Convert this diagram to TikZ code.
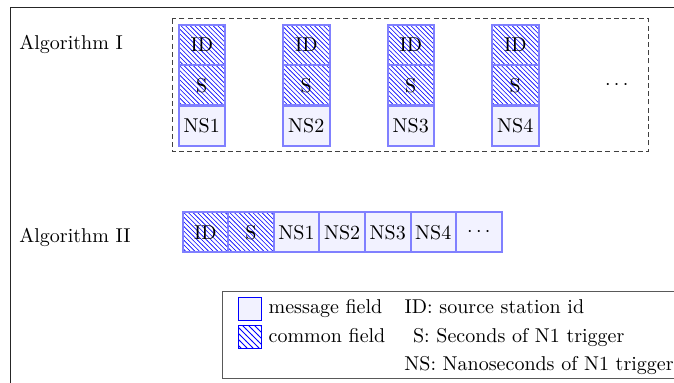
\documentclass[tikz,border=0pt]{standalone}
\usetikzlibrary{patterns}
\pgfdeclarepatternformonly{fine nw lines}{\pgfqpoint{-1pt}{-1pt}}{\pgfqpoint{3.3pt}{3.3pt}}{\pgfqpoint{2.3pt}{2.3pt}}{%
  \pgfsetlinewidth{0.3pt}%
  \pgfpathmoveto{\pgfqpoint{0pt}{2.3pt}}%
  \pgfpathlineto{\pgfqpoint{2.4pt}{-0.1pt}}%
  \pgfusepath{stroke}}
\begin{document}
\begin{tikzpicture}[x=0.5pt,y=-0.5pt,
  field/.style={draw=blue!50, line width=1pt, minimum width=23.2pt, minimum height=20pt, inner sep=0pt},
  msgfield/.style={field, fill=blue!5},
  comfield/.style={field, pattern=fine nw lines, pattern color=blue},
  rowfield/.style={minimum width=22.8pt},
  lbl/.style={anchor=base west, inner sep=0pt},
  frameline/.style={draw=black!85, line width=0.5pt},
  groupbox/.style={draw=black!75, line width=0.5pt, dash pattern=on 2.5pt off 1.6pt},
  legendbox/.style={draw=black!65, line width=0.5pt},
  legsquare/.style={draw=blue, line width=0.5pt, minimum size=11.5pt, inner sep=0pt}]
\clip (0,0) rectangle (674,383);
% outer frame (partly visible)
\coordinate (fbl) at (10.7,383);
\coordinate (ftl) at (10.7,8);
\coordinate (ftr) at (674,8);
\draw[frameline] (fbl) -- (ftl) -- (ftr);
% Algorithm I
\node[lbl] (alg1) at (19,50) {Algorithm I};
\draw[groupbox] (172.3,19) rectangle (648.3,151.7);
\foreach \i in {1,...,4}{
  \pgfmathsetmacro{\xx}{201.8+104.5*(\i-1)}
  \node[comfield] (idA\i) at (\xx,45) {ID};
  \node[comfield] (sA\i) at (\xx,85.3) {S};
  \node[msgfield] (nsA\i) at (\xx,125.7) {NS\i};
}
\node (dotsA) at (616.7,85) {$\cdots$};
% Algorithm II
\node[lbl] (alg2) at (19,243) {Algorithm II};
\node[comfield, rowfield] (idB) at (205.3,232.3) {ID};
\node[comfield, rowfield] (sB) at (250.9,232.3) {S};
\node[msgfield, rowfield] (ns1B) at (296.5,232.3) {NS1};
\node[msgfield, rowfield] (ns2B) at (342.1,232.3) {NS2};
\node[msgfield, rowfield] (ns3B) at (387.7,232.3) {NS3};
\node[msgfield, rowfield] (ns4B) at (433.3,232.3) {NS4};
\node[msgfield, rowfield] (dotsB) at (478.9,232.3) {$\cdots$};
% legend
\draw[legendbox] (222.5,291.7) rectangle (700,378.3);
\node[legsquare, fill=blue!5] (legmsg) at (250,308.8) {};
\node[legsquare, pattern=north west lines, pattern color=blue] (legcom) at (250,337) {};
\node[lbl] (legmsgt) at (268.3,313.5) {message field};
\node[lbl] (legcomt) at (268.3,342.5) {common field};
\node[lbl] (legid) at (404.3,313.5) {ID: source station id};
\node[lbl] (legs) at (412.7,342.5) {S: Seconds of N1 trigger};
\node[lbl] (legns) at (404,371) {NS: Nanoseconds of N1 trigger};
\end{tikzpicture}
\end{document}
